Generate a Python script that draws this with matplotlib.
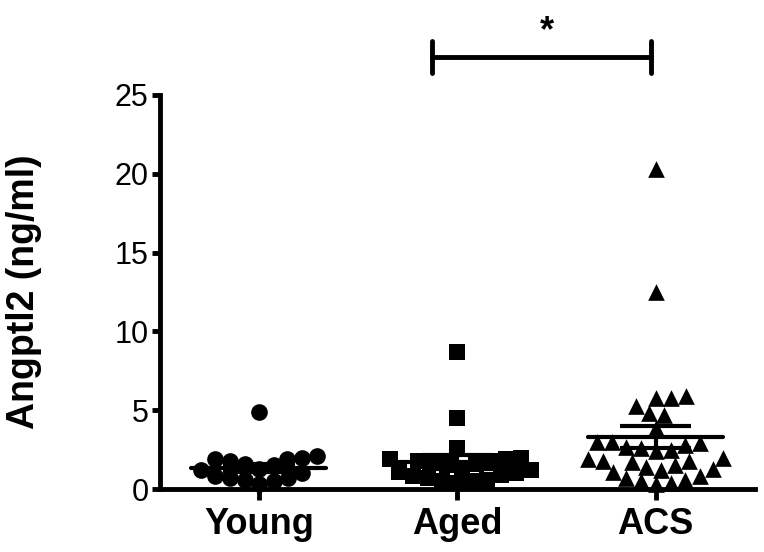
import matplotlib
matplotlib.use("Agg")
import matplotlib.pyplot as plt
import numpy as np

plt.rcParams['font.family'] = ['Liberation Sans', 'DejaVu Sans']

groups = ['Young', 'Aged', 'ACS']
markers = ['o', 's', '^']

young = [4.9, 2.1, 2.0, 1.9, 1.9, 1.8, 1.6, 1.5, 1.3, 1.2, 1.0, 0.8, 0.7, 0.7, 0.6, 0.5, 0.3]
aged = [8.7, 4.5, 2.6, 2.0, 1.9, 1.9, 1.8, 1.8, 1.7, 1.6, 1.5, 1.3, 1.2, 1.1, 1.0, 0.9,
        0.8, 0.7, 0.6, 0.5, 0.5, 0.4]
acs = [20.3, 12.5, 5.9, 5.8, 5.8, 5.3, 4.8, 4.7, 3.9, 3.0, 3.0, 2.9, 2.8, 2.7, 2.6, 2.5,
       2.4, 2.0, 1.9, 1.8, 1.8, 1.7, 1.5, 1.4, 1.3, 1.2, 1.1, 0.8, 0.7, 0.6, 0.5, 0.4, 0.3]
data = [young, aged, acs]

# mean and SEM
means = [1.33, 1.7, 3.3]
sems = [0.27, 0.45, 0.7]

yticks = [0, 5, 10, 15, 20, 25]

fig = plt.figure(figsize=(7.64, 5.52), dpi=100)
ax = fig.add_axes([0.209, 0.114, 0.779, 0.714])
ax.set_xlim(-0.5, 2.5)
ax.set_ylim(0, 25)


def swarm(vals, d):
    # simple beeswarm in pixel space, returns x offsets in pixels
    pts = ax.transData.transform(np.column_stack([np.zeros(len(vals)), vals]))
    ys = pts[:, 1]
    order = np.argsort(ys)
    placed = []
    xs = np.zeros(len(vals))
    for i in order:
        y = ys[i]
        cands = [0.0]
        for (px, py) in placed:
            dy = y - py
            if abs(dy) < d:
                dx = np.sqrt(d * d - dy * dy)
                cands += [px + dx, px - dx]
        cands.sort(key=abs)
        for c in cands:
            ok = all((c - px) ** 2 + (y - py) ** 2 >= d * d - 1e-6 for (px, py) in placed)
            if ok:
                xs[i] = c
                placed.append((c, y))
                break
    return xs


px_per_unit = ax.transData.transform((1, 0))[0] - ax.transData.transform((0, 0))[0]

for i, vals in enumerate(data):
    off = swarm(vals, 15) / px_per_unit
    ax.scatter(i + off, vals, marker=markers[i], s=12 ** 2, color='black',
               linewidths=0, zorder=3, clip_on=False)
    ax.hlines(means[i], i - 0.34, i + 0.34, color='black', lw=3, zorder=4, capstyle='round')
    ax.vlines(i, means[i] - sems[i], means[i] + sems[i], color='black', lw=3, zorder=4)
    ax.hlines([means[i] - sems[i], means[i] + sems[i]], i - 0.18, i + 0.18,
              color='black', lw=3, zorder=4)

# significance bracket
ax.plot([0.875, 1.975], [27.4, 27.4], color='black', lw=3.5, clip_on=False)
ax.plot([0.875, 0.875], [26.4, 28.4], color='black', lw=3.5, clip_on=False, solid_capstyle='round')
ax.plot([1.975, 1.975], [26.4, 28.4], color='black', lw=3.5, clip_on=False, solid_capstyle='round')
ax.text(1.45, 29.0, '*', ha='center', va='center', fontsize=26, fontweight='bold')

for s in ['top', 'right']:
    ax.spines[s].set_visible(False)
for s in ['left', 'bottom']:
    ax.spines[s].set_linewidth(3.5)

ax.set_xticks(range(len(groups)))
ax.set_xticklabels(groups, fontsize=26, fontweight='bold')
ax.set_yticks(yticks)
ax.set_yticklabels([str(t) for t in yticks], fontsize=22)
ax.tick_params(axis='x', length=8, width=3.5, pad=5)
ax.tick_params(axis='y', length=6, width=3.5, pad=2)
ax.set_ylabel('Angptl2 (ng/ml)', fontsize=27, fontweight='bold')
ax.yaxis.set_label_coords(-0.197, 0.5)

fig.savefig('out.png', dpi=100)
